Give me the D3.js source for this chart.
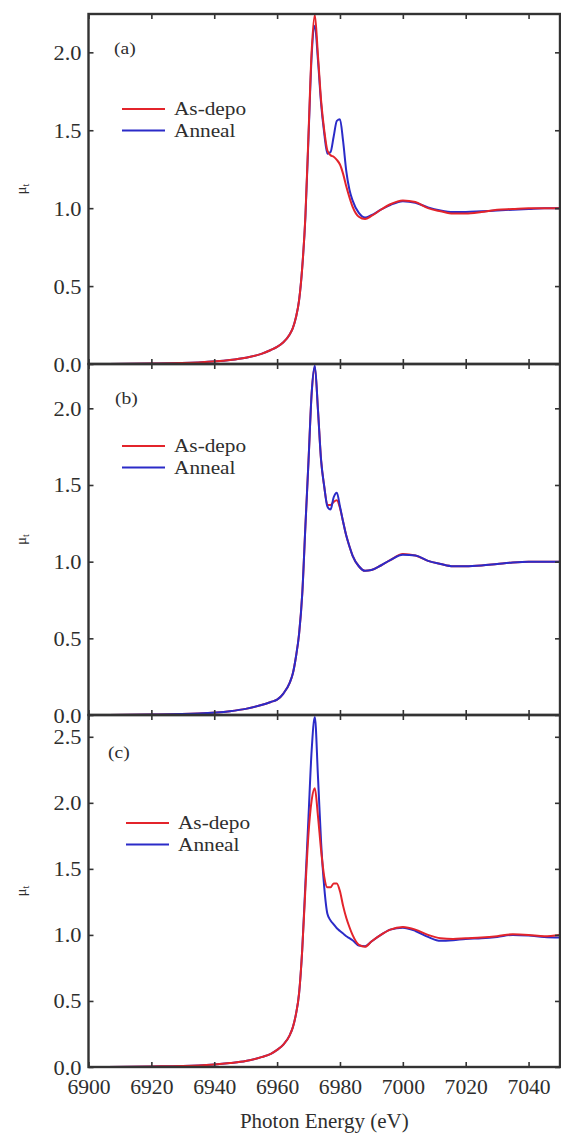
<!DOCTYPE html>
<html>
<head>
<meta charset="utf-8">
<script src="https://cdn.jsdelivr.net/npm/d3@7"></script>
<style>
  html, body { margin: 0; padding: 0; background: #fff; }
  svg { display: block; }
</style>
</head>
<body>
<svg id="chart" width="561" height="1136"></svg>
<script>
// ---------- data ----------
const energy = [6900, 6920, 6935, 6945, 6950, 6955, 6958, 6960, 6962, 6964, 6965, 6966, 6967, 6968, 6969, 6970, 6971, 6972, 6973, 6974, 6975, 6976, 6977, 6978, 6979, 6980, 6981, 6982, 6983, 6984, 6986, 6988, 6990, 6993, 6996, 7000, 7004, 7008, 7012, 7016, 7020, 7025, 7030, 7035, 7040, 7045, 7050];

const aAsDepo = [0.0, 0.003, 0.01, 0.025, 0.04, 0.065, 0.09, 0.11, 0.14, 0.19, 0.23, 0.30, 0.41, 0.62, 0.95, 1.48, 2.01, 2.24, 1.98, 1.69, 1.50, 1.37, 1.34, 1.33, 1.31, 1.28, 1.22, 1.14, 1.07, 1.01, 0.945, 0.93, 0.95, 0.99, 1.025, 1.05, 1.04, 1.0, 0.98, 0.965, 0.965, 0.975, 0.99, 0.995, 1.0, 1.0, 1.0];
const aAnneal = [0.0, 0.003, 0.01, 0.025, 0.04, 0.065, 0.09, 0.11, 0.14, 0.19, 0.23, 0.30, 0.41, 0.62, 0.94, 1.46, 1.98, 2.17, 1.95, 1.67, 1.48, 1.35, 1.36, 1.46, 1.56, 1.57, 1.43, 1.24, 1.12, 1.05, 0.97, 0.94, 0.955, 0.99, 1.02, 1.045, 1.035, 1.005, 0.985, 0.975, 0.975, 0.98, 0.985, 0.99, 0.995, 1.0, 1.0];

const bAsDepo = [0.0, 0.003, 0.01, 0.025, 0.04, 0.065, 0.085, 0.10, 0.14, 0.21, 0.27, 0.38, 0.53, 0.79, 1.23, 1.66, 2.10, 2.27, 1.99, 1.66, 1.49, 1.37, 1.37, 1.39, 1.40, 1.35, 1.26, 1.17, 1.10, 1.04, 0.97, 0.94, 0.945, 0.975, 1.01, 1.05, 1.04, 1.005, 0.985, 0.97, 0.97, 0.975, 0.985, 0.995, 1.0, 1.0, 1.0];
const bAnneal = [0.0, 0.003, 0.01, 0.025, 0.04, 0.065, 0.085, 0.10, 0.14, 0.21, 0.27, 0.38, 0.53, 0.79, 1.23, 1.66, 2.10, 2.28, 1.99, 1.66, 1.49, 1.36, 1.34, 1.42, 1.45, 1.36, 1.26, 1.17, 1.10, 1.04, 0.97, 0.94, 0.945, 0.975, 1.01, 1.045, 1.04, 1.005, 0.985, 0.97, 0.97, 0.975, 0.985, 0.995, 1.0, 1.0, 1.0];

const cAsDepo = [0.0, 0.004, 0.012, 0.03, 0.045, 0.075, 0.10, 0.13, 0.17, 0.24, 0.30, 0.40, 0.56, 0.89, 1.35, 1.77, 2.02, 2.11, 1.90, 1.64, 1.44, 1.36, 1.36, 1.39, 1.39, 1.33, 1.22, 1.13, 1.06, 1.0, 0.925, 0.91, 0.95, 1.0, 1.04, 1.06, 1.04, 1.0, 0.975, 0.97, 0.975, 0.98, 0.99, 1.005, 1.0, 0.99, 1.0];
const cAnneal = [0.0, 0.004, 0.012, 0.03, 0.045, 0.075, 0.10, 0.13, 0.17, 0.24, 0.30, 0.40, 0.56, 0.89, 1.39, 1.90, 2.40, 2.65, 2.20, 1.70, 1.36, 1.16, 1.11, 1.08, 1.05, 1.03, 1.01, 0.99, 0.975, 0.96, 0.92, 0.915, 0.95, 1.0, 1.04, 1.055, 1.03, 0.985, 0.955, 0.96, 0.97, 0.975, 0.985, 1.0, 0.995, 0.985, 0.98];

const xTicks = [6900, 6920, 6940, 6960, 6980, 7000, 7020, 7040];
const yTicksAB = [0, 0.5, 1.0, 1.5, 2.0];
const yTicksC = [0, 0.5, 1.0, 1.5, 2.0, 2.5];
const panelLabels = ["(a)", "(b)", "(c)"];
const seriesNames = ["As-depo", "Anneal"];
const xTitle = "Photon Energy (eV)";

// ---------- layout ----------
const FONT = '"Liberation Serif", "Times New Roman", serif';
const TXT = "#2e2e2e";
const svg = d3.select("#chart");
const left = 88.5, right = 560;
const RED = "#e3242b", BLUE = "#2b2bc8", FRAME = "#333";

// widen text slightly to match the reference's broad glyphs
function stretch(sel, f) {
  sel.each(function () {
    const w = this.getComputedTextLength();
    if (w > 0) {
      d3.select(this).attr("textLength", (w * f).toFixed(1)).attr("lengthAdjust", "spacingAndGlyphs");
    }
  });
}

const x = d3.scaleLinear().domain([6900, 7050]).range([left, right]);

const panels = [
  { top: 14, bottom: 364, ymax: 2.246, ticks: yTicksAB, series: [aAnneal, aAsDepo], order: ["blue", "red"], label: panelLabels[0], labelX: 114, labelY: 54, legX: 122, legY: 109 },
  { top: 364, bottom: 715, ymax: 2.289, ticks: yTicksAB, series: [bAsDepo, bAnneal], order: ["red", "blue"], label: panelLabels[1], labelX: 115, labelY: 404, legX: 122, legY: 446 },
  { top: 715, bottom: 1067, ymax: 2.665, ticks: yTicksC, series: [cAnneal, cAsDepo], order: ["blue", "red"], label: panelLabels[2], labelX: 108, labelY: 758, legX: 126, legY: 823 }
];

panels.forEach((p, i) => {
  const y = d3.scaleLinear().domain([0, p.ymax]).range([p.bottom, p.top]);
  const g = svg.append("g");

  // curves
  const line = d3.line()
    .x((d, k) => x(energy[k]))
    .y(d => y(d))
    .curve(d3.curveMonotoneX);
  p.series.forEach((s, k) => {
    g.append("path")
      .attr("d", line(s))
      .attr("fill", "none")
      .attr("stroke", p.order[k] === "red" ? RED : BLUE)
      .attr("stroke-width", 2)
      .attr("stroke-linejoin", "round");
  });

  // axes (ticks inward on all sides)
  const tl = 5;
  const yAxisL = d3.axisLeft(y).tickValues(p.ticks).tickSize(-tl).tickPadding(7).tickFormat(d3.format(".1f"));
  const gl = g.append("g").attr("transform", `translate(${left},0)`).call(yAxisL);
  const yAxisR = d3.axisRight(y).tickValues(p.ticks).tickSize(-tl).tickFormat("");
  const gr = g.append("g").attr("transform", `translate(${right},0)`).call(yAxisR);
  const xAxisT = d3.axisTop(x).tickValues(xTicks).tickSize(-tl).tickFormat("");
  const gt = g.append("g").attr("transform", `translate(0,${p.top})`).call(xAxisT);
  const xAxisB = d3.axisBottom(x).tickValues(xTicks).tickSize(-tl).tickPadding(13).tickFormat(d3.format("d"));
  if (i < 2) xAxisB.tickFormat("");
  const gb = g.append("g").attr("transform", `translate(0,${p.bottom})`).call(xAxisB);

  [gl, gr, gt, gb].forEach(ax => {
    ax.attr("font-family", null).attr("font-size", null);
    ax.select(".domain").remove();
    ax.selectAll(".tick line").attr("stroke", FRAME).attr("stroke-width", 1.6);
    ax.selectAll(".tick text")
      .attr("fill", TXT)
      .style("font-family", FONT)
      .style("font-size", "20px");
  });
  gl.selectAll(".tick text").attr("dy", "0.35em");
  stretch(gl.selectAll(".tick text"), 1.12);
  stretch(gb.selectAll(".tick text"), 1.08);

  // frame
  g.append("rect")
    .attr("x", left).attr("y", p.top)
    .attr("width", right - left).attr("height", p.bottom - p.top)
    .attr("fill", "none").attr("stroke", FRAME).attr("stroke-width", 2.4);

  // panel label
  const pl = g.append("text").attr("x", p.labelX).attr("y", p.labelY)
    .attr("fill", TXT)
    .style("font-family", FONT)
    .style("font-size", "17px").text(p.label);
  stretch(pl, 1.15);

  // legend
  const legColors = [RED, BLUE];
  seriesNames.forEach((name, k) => {
    const ly = p.legY + k * 21.5;
    g.append("line").attr("x1", p.legX).attr("x2", p.legX + 43)
      .attr("y1", ly).attr("y2", ly)
      .attr("stroke", legColors[k]).attr("stroke-width", 2);
    const lt = g.append("text").attr("x", p.legX + 52).attr("y", ly + 6)
      .attr("fill", TXT)
      .style("font-family", FONT)
      .style("font-size", "19px").text(name);
    stretch(lt, 1.12);
  });

  // y label μt
  const cy = (p.top + p.bottom) / 2;
  const yl = g.append("text")
    .attr("transform", `translate(26,${cy}) rotate(-90)`)
    .attr("text-anchor", "middle")
    .attr("fill", TXT)
    .style("font-family", FONT)
    .style("font-size", "15px");
  yl.append("tspan").text("μ");
  yl.append("tspan").attr("dy", 3).style("font-size", "10px").text("t");
});

// x title
svg.append("text")
  .attr("x", (left + right) / 2).attr("y", 1128)
  .attr("text-anchor", "middle")
  .attr("fill", TXT)
  .style("font-family", FONT)
  .style("font-size", "21px")
  .text(xTitle);
</script>
</body>
</html>
